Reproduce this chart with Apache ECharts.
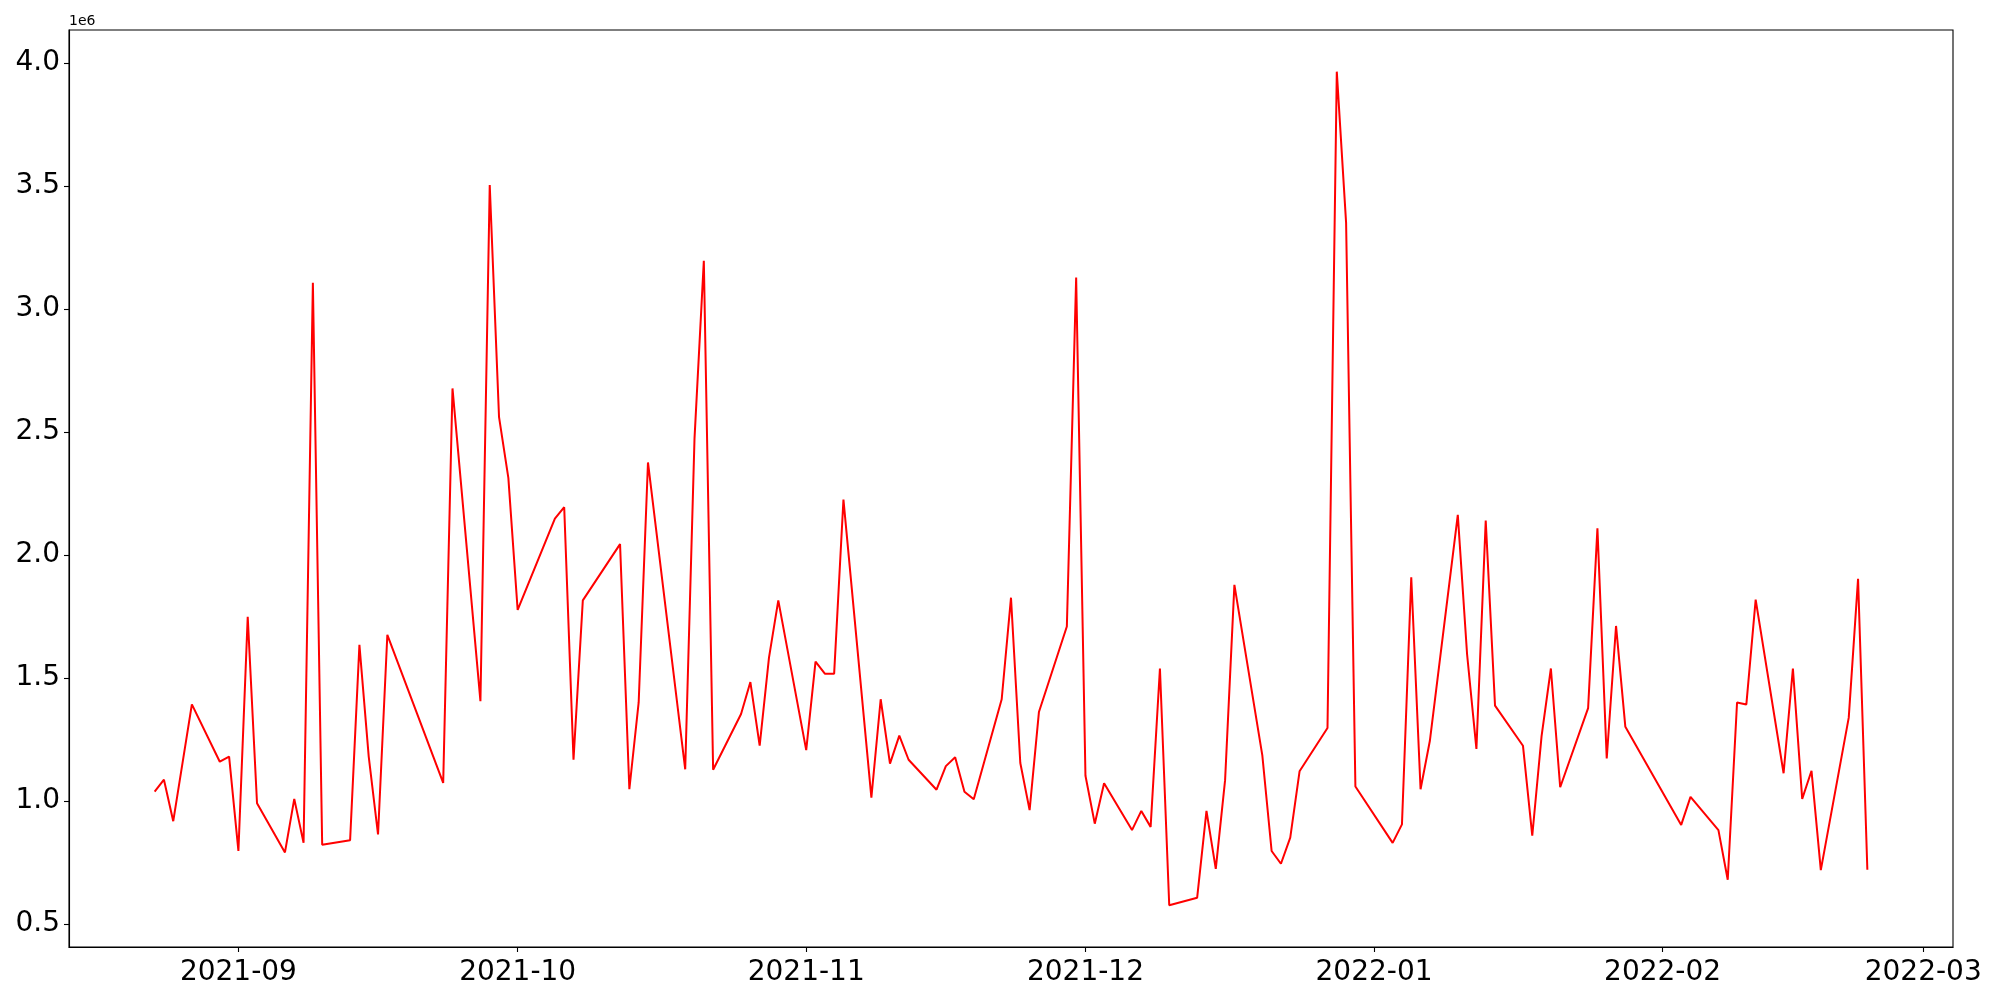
<!DOCTYPE html>
<html>
<head>
<meta charset="utf-8">
<script src="https://cdn.jsdelivr.net/npm/echarts@6/dist/echarts.min.js"></script>
<style>
html,body{margin:0;padding:0;background:#fff;}
#chart{width:2000px;height:1000px;}
</style>
</head>
<body>
<div id="chart"></div>
<script>
var dates = [
'2021-08-23','2021-08-24','2021-08-25','2021-08-27','2021-08-30','2021-08-31',
'2021-09-01','2021-09-02','2021-09-03','2021-09-06','2021-09-07','2021-09-08','2021-09-09','2021-09-10',
'2021-09-13','2021-09-14','2021-09-15','2021-09-16','2021-09-17','2021-09-23','2021-09-24',
'2021-09-27','2021-09-28','2021-09-29','2021-09-30','2021-10-01',
'2021-10-05','2021-10-06','2021-10-07','2021-10-08','2021-10-12','2021-10-13','2021-10-14','2021-10-15',
'2021-10-19','2021-10-20','2021-10-21','2021-10-22','2021-10-25','2021-10-26','2021-10-27','2021-10-28','2021-10-29',
'2021-11-01','2021-11-02','2021-11-03','2021-11-04','2021-11-05','2021-11-08','2021-11-09','2021-11-10','2021-11-11','2021-11-12',
'2021-11-15','2021-11-16','2021-11-17','2021-11-18','2021-11-19','2021-11-22','2021-11-23','2021-11-24','2021-11-25','2021-11-26',
'2021-11-29','2021-11-30','2021-12-01','2021-12-02','2021-12-03','2021-12-06','2021-12-07','2021-12-08','2021-12-09','2021-12-10',
'2021-12-13','2021-12-14','2021-12-15','2021-12-16','2021-12-17','2021-12-20','2021-12-21','2021-12-22','2021-12-23','2021-12-24',
'2021-12-27','2021-12-28','2021-12-29','2021-12-30',
'2022-01-03','2022-01-04','2022-01-05','2022-01-06','2022-01-07','2022-01-10','2022-01-11','2022-01-12','2022-01-13','2022-01-14',
'2022-01-17','2022-01-18','2022-01-19','2022-01-20','2022-01-21','2022-01-24','2022-01-25','2022-01-26','2022-01-27','2022-01-28',
'2022-02-03','2022-02-04','2022-02-07','2022-02-08','2022-02-09','2022-02-10','2022-02-11',
'2022-02-14','2022-02-15','2022-02-16','2022-02-17','2022-02-18','2022-02-21','2022-02-22','2022-02-23'
];
var values = [
1037000,1086000,917000,1392000,1159000,1180000,
796000,1748000,990000,790000,1008000,829000,3107000,821000,
840000,1634000,1180000,863000,1675000,1073000,2677000,
1405000,3504000,2560000,2313000,1776000,
2147000,2194000,1167000,1815000,2044000,1047000,1400000,2376000,
1128000,2474000,3196000,1126000,1353000,1483000,1224000,1582000,1815000,
1206000,1566000,1517000,1517000,2225000,1013000,1413000,1151000,1265000,1167000,
1045000,1141000,1177000,1037000,1006000,1413000,1826000,1154000,962000,1361000,
1709000,3128000,1102000,907000,1071000,881000,959000,894000,1538000,575000,
606000,959000,723000,1084000,1878000,1185000,796000,744000,850000,1120000,
1296000,3965000,3351000,1058000,
829000,904000,1909000,1047000,1244000,2163000,1595000,1211000,2140000,1387000,
1224000,858000,1263000,1538000,1055000,1377000,2108000,1172000,1711000,1301000,
902000,1016000,881000,679000,1400000,1392000,1818000,
1112000,1538000,1008000,1122000,718000,1338000,1903000,720000
];
var monthTicks = ['2021-09-01','2021-10-01','2021-11-01','2021-12-01','2022-01-01','2022-02-01','2022-03-01'];
var monthLabels = ['2021-09','2021-10','2021-11','2021-12','2022-01','2022-02','2022-03'];
var yTicks = [500000,1000000,1500000,2000000,2500000,3000000,3500000,4000000];
var yTickLabels = ['0.5','1.0','1.5','2.0','2.5','3.0','3.5','4.0'];
var yOffsetLabel = '1e6';

function ts(s){var p=s.split('-');return Date.UTC(+p[0],+p[1]-1,+p[2]);}
var xs = dates.map(ts);
var monthTs = monthTicks.map(ts);
var xSpan = xs[xs.length-1]-xs[0];
var xMin = xs[0]-0.05*xSpan, xMax = xs[xs.length-1]+0.05*xSpan;
var vMin = Math.min.apply(null,values), vMax = Math.max.apply(null,values);
var vSpan = vMax-vMin;
var yMin = vMin-0.05*vSpan, yMax = vMax+0.05*vSpan;

var seriesData = xs.map(function(x,i){return [x,values[i]];});
var font = 'DejaVu Sans';

var chart = echarts.init(document.getElementById('chart'), null, {renderer:'canvas'});
chart.setOption({
  animation:false,
  backgroundColor:'#fff',
  grid:{left:69,top:30,right:47,bottom:53,show:true,borderColor:'#000',borderWidth:1.1,backgroundColor:'transparent'},
  xAxis:{
    type:'value',min:xMin,max:xMax,scale:true,
    axisLine:{show:true,onZero:false,lineStyle:{color:'#000',width:1.1}},
    axisTick:{show:true,inside:false,length:5,lineStyle:{color:'#000',width:1.1},customValues:monthTs},
    axisLabel:{show:true,color:'#000',fontFamily:font,fontSize:28,margin:12,customValues:monthTs,
      showMinLabel:true,showMaxLabel:true,
      formatter:function(v){var i=monthTs.indexOf(v);return i>=0?monthLabels[i]:'';}},
    splitLine:{show:false}
  },
  yAxis:{
    type:'value',min:yMin,max:yMax,scale:true,
    name:yOffsetLabel,nameLocation:'end',nameGap:2,
    nameTextStyle:{fontFamily:font,fontSize:14,color:'#000',align:'left',verticalAlign:'bottom',padding:[0,0,0,0]},
    axisLine:{show:true,onZero:false,lineStyle:{color:'#000',width:1.1}},
    axisTick:{show:true,inside:false,length:5,lineStyle:{color:'#000',width:1.1},customValues:yTicks},
    axisLabel:{show:true,color:'#000',fontFamily:font,fontSize:28,margin:9,customValues:yTicks,
      formatter:function(v){var i=yTicks.indexOf(v);return i>=0?yTickLabels[i]:'';}},
    splitLine:{show:false}
  },
  series:[{
    type:'line',data:seriesData,showSymbol:false,symbol:'none',
    lineStyle:{color:'#ff0000',width:2},
    itemStyle:{color:'#ff0000'}
  }]
});
</script>
</body>
</html>
